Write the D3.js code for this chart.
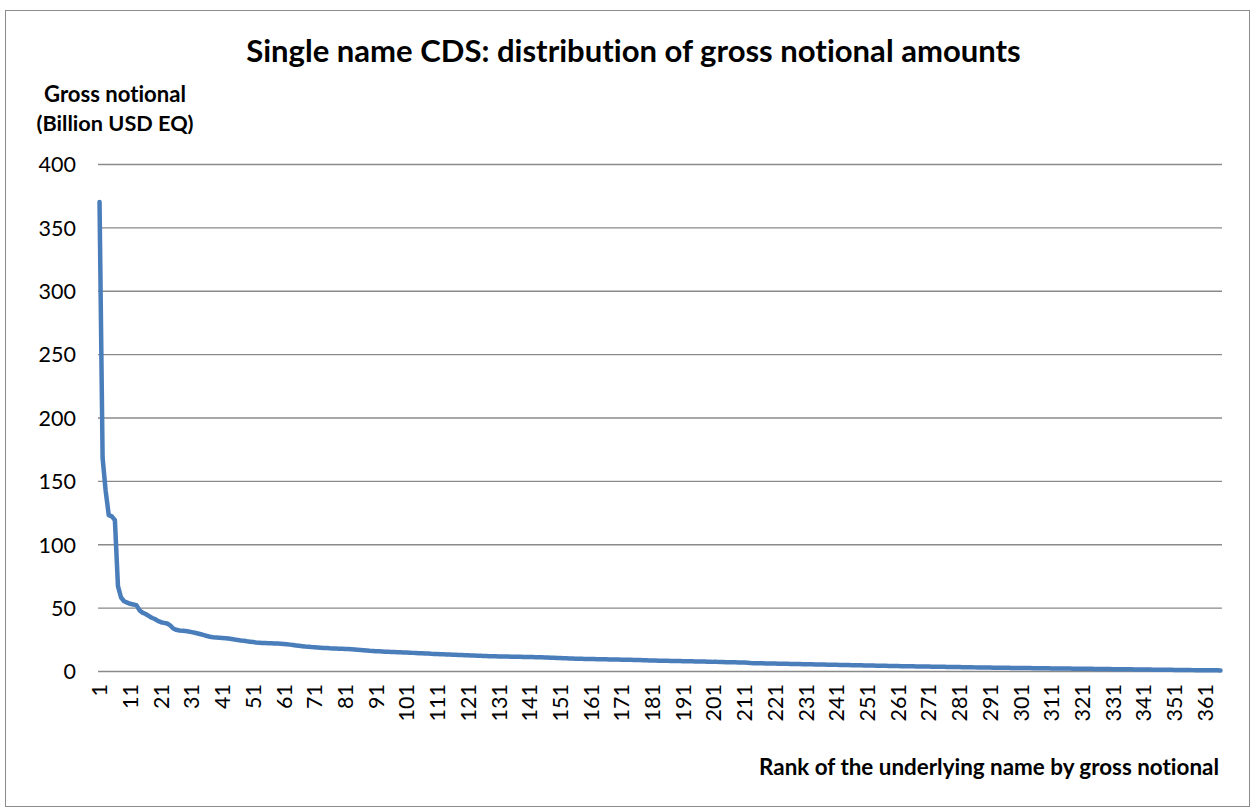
<!DOCTYPE html>
<html>
<head>
<meta charset="utf-8">
<script src="https://cdn.jsdelivr.net/npm/d3@7"></script>
<style>
  html, body { margin: 0; padding: 0; background: #fff; }
  svg { display: block; }
  text { font-variant-ligatures: none; font-feature-settings: "liga" 0, "clig" 0, "dlig" 0; }
</style>
</head>
<body>
<svg id="chart" width="1255" height="808"></svg>
<script>
// ---- data ----
const chartTitle = "Single name CDS: distribution of gross notional amounts";
const yTitleLines = ["Gross notional", "(Billion USD EQ)"];
const xTitle = "Rank of the underlying name by gross notional";
const yTicks = [0, 50, 100, 150, 200, 250, 300, 350, 400];
const xTickLabels = ["1","11","21","31","41","51","61","71","81","91","101","111","121","131","141","151","161","171","181","191","201","211","221","231","241","251","261","271","281","291","301","311","321","331","341","351","361"];
const grossNotional = [
370,168,142,123,122,119,67,58,55,54,
53,52.5,52,48,46,45,43.5,42,41,39.5,
38.5,38,37.5,36,33.5,32.5,32,31.8,31.5,31.2,
30.7,30.2,29.6,29,28.3,27.6,27,26.7,26.5,26.3,
26.1,25.9,25.6,25.2,24.8,24.5,24.1,23.8,23.4,23.1,
22.8,22.5,22.3,22.1,22,21.9,21.8,21.7,21.6,21.5,
21.3,21.1,20.8,20.5,20.2,19.9,19.6,19.3,19.1,18.9,
18.8,18.6,18.4,18.2,18.1,17.9,17.8,17.7,17.6,17.5,
17.4,17.3,17.1,16.9,16.7,16.5,16.3,16.1,15.9,15.8,
15.6,15.5,15.4,15.2,15.1,15,14.9,14.8,14.7,14.6,
14.5,14.4,14.3,14.2,14.1,14,13.9,13.8,13.6,13.5,
13.4,13.3,13.2,13.1,13,12.9,12.8,12.7,12.6,12.5,
12.4,12.3,12.2,12.1,12,11.9,11.8,11.7,11.6,11.6,
11.5,11.5,11.4,11.4,11.3,11.3,11.2,11.2,11.1,11.1,
11,11,10.9,10.9,10.8,10.7,10.6,10.5,10.4,10.3,
10.2,10.1,10,9.9,9.8,9.7,9.6,9.6,9.5,9.5,
9.4,9.4,9.3,9.3,9.2,9.2,9.1,9.1,9,9,
8.9,8.9,8.8,8.8,8.7,8.7,8.6,8.5,8.4,8.3,
8.2,8.2,8.1,8.1,8,8,7.9,7.9,7.8,7.8,
7.7,7.7,7.6,7.6,7.5,7.5,7.4,7.4,7.3,7.3,
7.2,7.2,7.1,7.1,7,7,6.9,6.9,6.8,6.8,
6.7,6.5,6.3,6.2,6.15,6.1,6.05,6,5.95,5.9,
5.85,5.8,5.76,5.7,5.65,5.6,5.56,5.5,5.45,5.4,
5.36,5.3,5.25,5.2,5.16,5.1,5.05,5,4.96,4.9,
4.85,4.8,4.76,4.7,4.65,4.6,4.56,4.5,4.45,4.4,
4.36,4.3,4.25,4.2,4.16,4.1,4.05,4,3.96,3.9,
3.86,3.82,3.78,3.74,3.7,3.66,3.62,3.58,3.54,3.5,
3.46,3.42,3.38,3.34,3.3,3.26,3.22,3.18,3.14,3.1,
3.06,3.02,2.98,2.94,2.9,2.86,2.82,2.78,2.74,2.7,
2.67,2.64,2.61,2.58,2.55,2.52,2.49,2.46,2.43,2.4,
2.37,2.34,2.31,2.28,2.25,2.22,2.19,2.16,2.13,2.1,
2.07,2.04,2.01,1.98,1.95,1.92,1.89,1.86,1.83,1.8,
1.77,1.74,1.71,1.68,1.65,1.62,1.59,1.56,1.53,1.5,
1.47,1.44,1.41,1.38,1.35,1.32,1.29,1.26,1.23,1.2,
1.17,1.14,1.11,1.08,1.05,1.02,0.99,0.96,0.93,0.9,
0.87,0.84,0.81,0.78,0.75,0.72,0.69,0.66,0.63,0.6,
0.58,0.56,0.54,0.52,0.5,0.48
];
const ranks = grossNotional.map((_, i) => String(i + 1));

// ---- layout ----
const plot = { left: 98, right: 1222, top: 164, bottom: 671 };
const FONT = "Lato, 'Open Sans', sans-serif";

const svg = d3.select("#chart");

// outer border
svg.append("rect")
  .attr("x", 5.5).attr("y", 10.5)
  .attr("width", 1244).attr("height", 796)
  .attr("fill", "#fff").attr("stroke", "#8c8c8c").attr("stroke-width", 1);

const x = d3.scaleBand().domain(ranks).range([plot.left, plot.right]).padding(0);
const y = d3.scaleLinear().domain([0, 400]).range([plot.bottom, plot.top]);

// gridlines + y labels via axis
const yAxis = d3.axisLeft(y).tickValues(yTicks).tickSize(-(plot.right - plot.left)).tickPadding(22);
const gy = svg.append("g").attr("transform", `translate(${plot.left},0)`).call(yAxis);
gy.select(".domain").remove();
gy.selectAll(".tick line").attr("stroke", "#8a8a8a").attr("stroke-width", 1.3);
gy.selectAll(".tick text")
  .attr("font-family", FONT).attr("font-size", 21.5).attr("fill", "#000")
  .attr("dy", "0.36em");

// x axis labels
const xAxis = d3.axisBottom(x).tickValues(xTickLabels).tickSize(0).tickPadding(0);
const gx = svg.append("g").attr("transform", `translate(0,${plot.bottom})`).call(xAxis);
gx.select(".domain").remove();
gx.selectAll(".tick text")
  .attr("font-family", FONT).attr("font-size", 21.5).attr("fill", "#000")
  .attr("text-anchor", "end")
  .attr("transform", "rotate(-90)")
  .attr("x", -13).attr("y", 0).attr("dy", "0.36em");

// line
const line = d3.line()
  .x((d, i) => x(ranks[i]) + x.bandwidth() / 2)
  .y(d => y(d));
svg.append("path")
  .datum(grossNotional)
  .attr("d", line)
  .attr("fill", "none")
  .attr("stroke", "#4a7ebb")
  .attr("stroke-width", 4.5)
  .attr("stroke-linejoin", "round")
  .attr("stroke-linecap", "round");

// text helper: fit width by adjusting font size
function fitText(sel, targetWidth, baseSize) {
  sel.attr("font-size", baseSize);
  const w = sel.node().getComputedTextLength();
  if (w > 0) sel.attr("font-size", baseSize * targetWidth / w);
  return sel;
}

// title
const t = svg.append("text")
  .attr("x", 633.5).attr("y", 62)
  .attr("text-anchor", "middle")
  .attr("font-family", FONT).attr("font-weight", "bold").attr("fill", "#000")
  .text(chartTitle);
fitText(t, 775, 30);

// y title
const yt1 = svg.append("text")
  .attr("x", 115).attr("y", 102).attr("text-anchor", "middle")
  .attr("font-family", FONT).attr("font-weight", "bold").attr("fill", "#000")
  .text(yTitleLines[0]);
fitText(yt1, 142, 21);
const yt2 = svg.append("text")
  .attr("x", 115).attr("y", 131).attr("text-anchor", "middle")
  .attr("font-family", FONT).attr("font-weight", "bold").attr("fill", "#000")
  .text(yTitleLines[1]);
fitText(yt2, 157, 21);

// x title
const xt = svg.append("text")
  .attr("x", 1219).attr("y", 775).attr("text-anchor", "end")
  .attr("font-family", FONT).attr("font-weight", "bold").attr("fill", "#000")
  .text(xTitle);
fitText(xt, 460, 21);
</script>
</body>
</html>
